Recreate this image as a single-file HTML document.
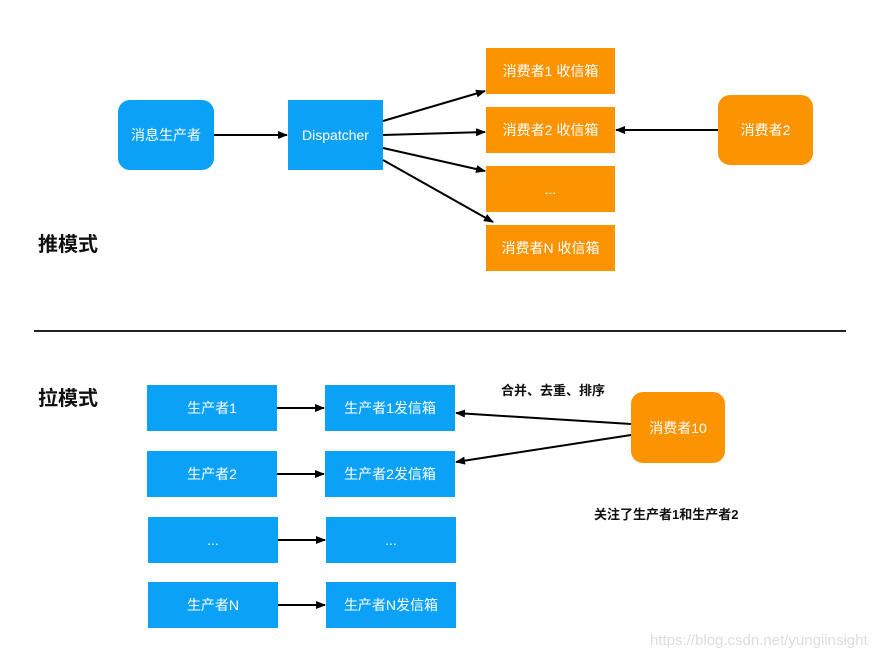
<!DOCTYPE html><html><head><meta charset="utf-8"><style>
body{margin:0;width:892px;height:660px;background:#fff;position:relative;overflow:hidden;font-family:"Liberation Sans","Noto Sans CJK SC",sans-serif}
.b{position:absolute;display:flex;align-items:center;justify-content:center;color:#fff;font-size:14px}
.bl{background:#0aa1f7}.or{background:#fc9300}
.t{position:absolute;font-size:20px;font-weight:bold;color:#111}
.s{position:absolute;font-size:13px;font-weight:bold;color:#111}
</style></head><body>
<div class="b bl" style="left:118px;top:100px;width:96px;height:70px;border-radius:12px">消息生产者</div>
<div class="b bl" style="left:288px;top:100px;width:95px;height:70px">Dispatcher</div>
<div class="b or" style="left:486px;top:48px;width:129px;height:46px">消费者1 收信箱</div>
<div class="b or" style="left:486px;top:107px;width:129px;height:46px">消费者2 收信箱</div>
<div class="b or" style="left:486px;top:166px;width:129px;height:46px">...</div>
<div class="b or" style="left:486px;top:225px;width:129px;height:46px">消费者N 收信箱</div>
<div class="b or" style="left:718px;top:95px;width:95px;height:70px;border-radius:12px">消费者2</div>
<div class="t" style="left:38px;top:228px">推模式</div>
<div class="t" style="left:38px;top:382px">拉模式</div>
<div style="position:absolute;left:34px;top:330px;width:812px;height:2px;background:#222"></div>
<div class="b bl" style="left:147px;top:385px;width:130px;height:46px">生产者1</div>
<div class="b bl" style="left:147px;top:451px;width:130px;height:46px">生产者2</div>
<div class="b bl" style="left:148px;top:517px;width:130px;height:46px">...</div>
<div class="b bl" style="left:148px;top:582px;width:130px;height:46px">生产者N</div>
<div class="b bl" style="left:325px;top:385px;width:130px;height:46px">生产者1发信箱</div>
<div class="b bl" style="left:325px;top:451px;width:130px;height:46px">生产者2发信箱</div>
<div class="b bl" style="left:326px;top:517px;width:130px;height:46px">...</div>
<div class="b bl" style="left:326px;top:582px;width:130px;height:46px">生产者N发信箱</div>
<div class="b or" style="left:631px;top:392px;width:94px;height:71px;border-radius:12px">消费者10</div>
<div class="s" style="left:501px;top:380px">合并、去重、排序</div>
<div class="s" style="left:594px;top:504px">关注了生产者1和生产者2</div>
<div style="position:absolute;left:650px;top:632px;font-size:15px;color:#ddd">https://blog.csdn.net/yungiinsight</div>
<svg width="892" height="660" style="position:absolute;left:0;top:0">
<defs><marker id="a" markerWidth="10" markerHeight="8" refX="9" refY="4" orient="auto" markerUnits="userSpaceOnUse"><path d="M0,0L10,4L0,8Z" fill="#000"/></marker></defs>
<g stroke="#000" stroke-width="2" marker-end="url(#a)">
<line x1="214" y1="135" x2="287" y2="135"/>
<line x1="383" y1="121" x2="485" y2="91"/>
<line x1="383" y1="135" x2="485" y2="132"/>
<line x1="383" y1="148" x2="485" y2="171"/>
<line x1="383" y1="160" x2="493" y2="222"/>
<line x1="718" y1="130" x2="616" y2="130"/>
<line x1="277" y1="408" x2="324" y2="408"/>
<line x1="277" y1="474" x2="324" y2="474"/>
<line x1="278" y1="540" x2="325" y2="540"/>
<line x1="278" y1="605" x2="325" y2="605"/>
<line x1="631" y1="424" x2="456" y2="413"/>
<line x1="631" y1="435" x2="456" y2="462"/>
</g></svg>
</body></html>
